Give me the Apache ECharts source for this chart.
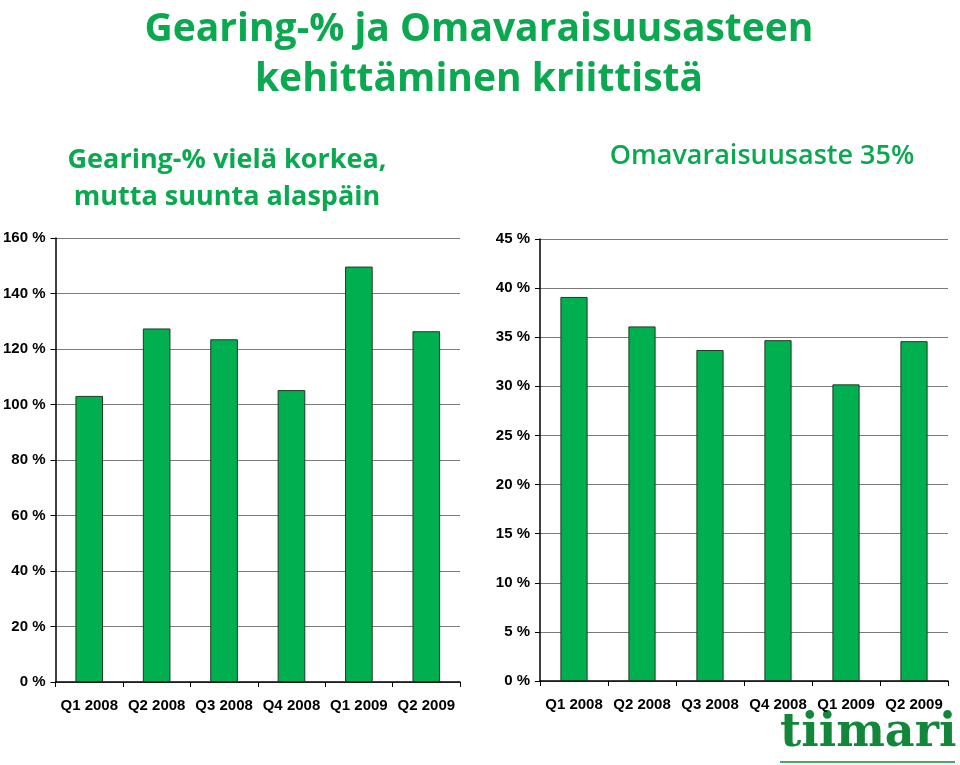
<!DOCTYPE html>
<html>
<head>
<meta charset="utf-8">
<script src="https://cdn.jsdelivr.net/npm/echarts@6/dist/echarts.min.js"></script>
<style>
html,body{margin:0;padding:0;background:#fff;}
#main{width:960px;height:765px;}
</style>
</head>
<body>
<div id="main"></div>
<script>
var categories = ['Q1 2008','Q2 2008','Q3 2008','Q4 2008','Q1 2009','Q2 2009'];
var gearingValues = [103.1, 127.4, 123.5, 105.2, 149.7, 126.4];
var equityRatioValues = [39.1, 36.1, 33.7, 34.7, 30.2, 34.6];
var gearingTicks = {min: 0, max: 160, interval: 20};
var equityTicks = {min: 0, max: 45, interval: 5};

var green = '#0aa84f';
var chart = echarts.init(document.getElementById('main'));

function yAxis(t, idx){
  return {
    type: 'value', gridIndex: idx, min: t.min, max: t.max, interval: t.interval,
    axisLine: {show: true, lineStyle: {color: '#000', width: 1.5}},
    axisTick: {show: true, length: 5, lineStyle: {color: '#000'}},
    axisLabel: {formatter: '{value} %', color: '#000', fontFamily: 'Liberation Sans', fontWeight: 'bold', fontSize: 15, margin: 10},
    splitLine: {show: true, lineStyle: {color: '#7a7a7a', width: 1.2}}
  };
}
function xAxis(idx){
  return {
    type: 'category', gridIndex: idx, data: categories,
    axisLine: {show: true, lineStyle: {color: '#000', width: 1.5}},
    axisTick: {show: true, length: 5, lineStyle: {color: '#000'}},
    axisLabel: {color: '#000', fontFamily: 'Liberation Sans', fontWeight: 'bold', fontSize: 15, margin: 16, interval: 0}
  };
}
var barStyle = {color: '#00b050', borderColor: '#1f3a22', borderWidth: 1};

chart.setOption({
  backgroundColor: '#fff',
  animation: false,
  title: [
    {text: 'Gearing-% ja Omavaraisuusasteen\nkehittäminen kriittistä', left: 474, top: 0, textAlign: 'center',
     textStyle: {color: green, fontFamily: 'Open Sans', fontWeight: 'bold', fontSize: 39, lineHeight: 50}},
    {text: 'Gearing-% vielä korkea,\nmutta suunta alaspäin', left: 222, top: 137, textAlign: 'center',
     textStyle: {color: green, fontFamily: 'Open Sans', fontWeight: 'bold', fontSize: 27, lineHeight: 37}},
    {text: 'Omavaraisuusaste 35%', left: 757, top: 138, textAlign: 'center',
     textStyle: {color: green, fontFamily: 'Open Sans', fontWeight: 600, fontSize: 27}}
  ],
  grid: [
    {left: 55, right: 500, top: 238, bottom: 83},
    {left: 540, right: 12, top: 239, bottom: 84}
  ],
  xAxis: [xAxis(0), xAxis(1)],
  yAxis: [yAxis(gearingTicks, 0), yAxis(equityTicks, 1)],
  series: [
    {type: 'bar', xAxisIndex: 0, yAxisIndex: 0, data: gearingValues, barWidth: '41%', itemStyle: barStyle},
    {type: 'bar', xAxisIndex: 1, yAxisIndex: 1, data: equityRatioValues, barWidth: '40%', itemStyle: barStyle}
  ],
  graphic: [
    {type: 'text', left: 780, top: 711, style: {text: 'tiimari', fill: '#12873a', font: 'bold 46px "DejaVu Serif"'}},
    {type: 'line', shape: {x1: 780, y1: 762, x2: 955, y2: 762}, style: {stroke: '#12873a', lineWidth: 1.5}}
  ]
});
</script>
</body>
</html>
